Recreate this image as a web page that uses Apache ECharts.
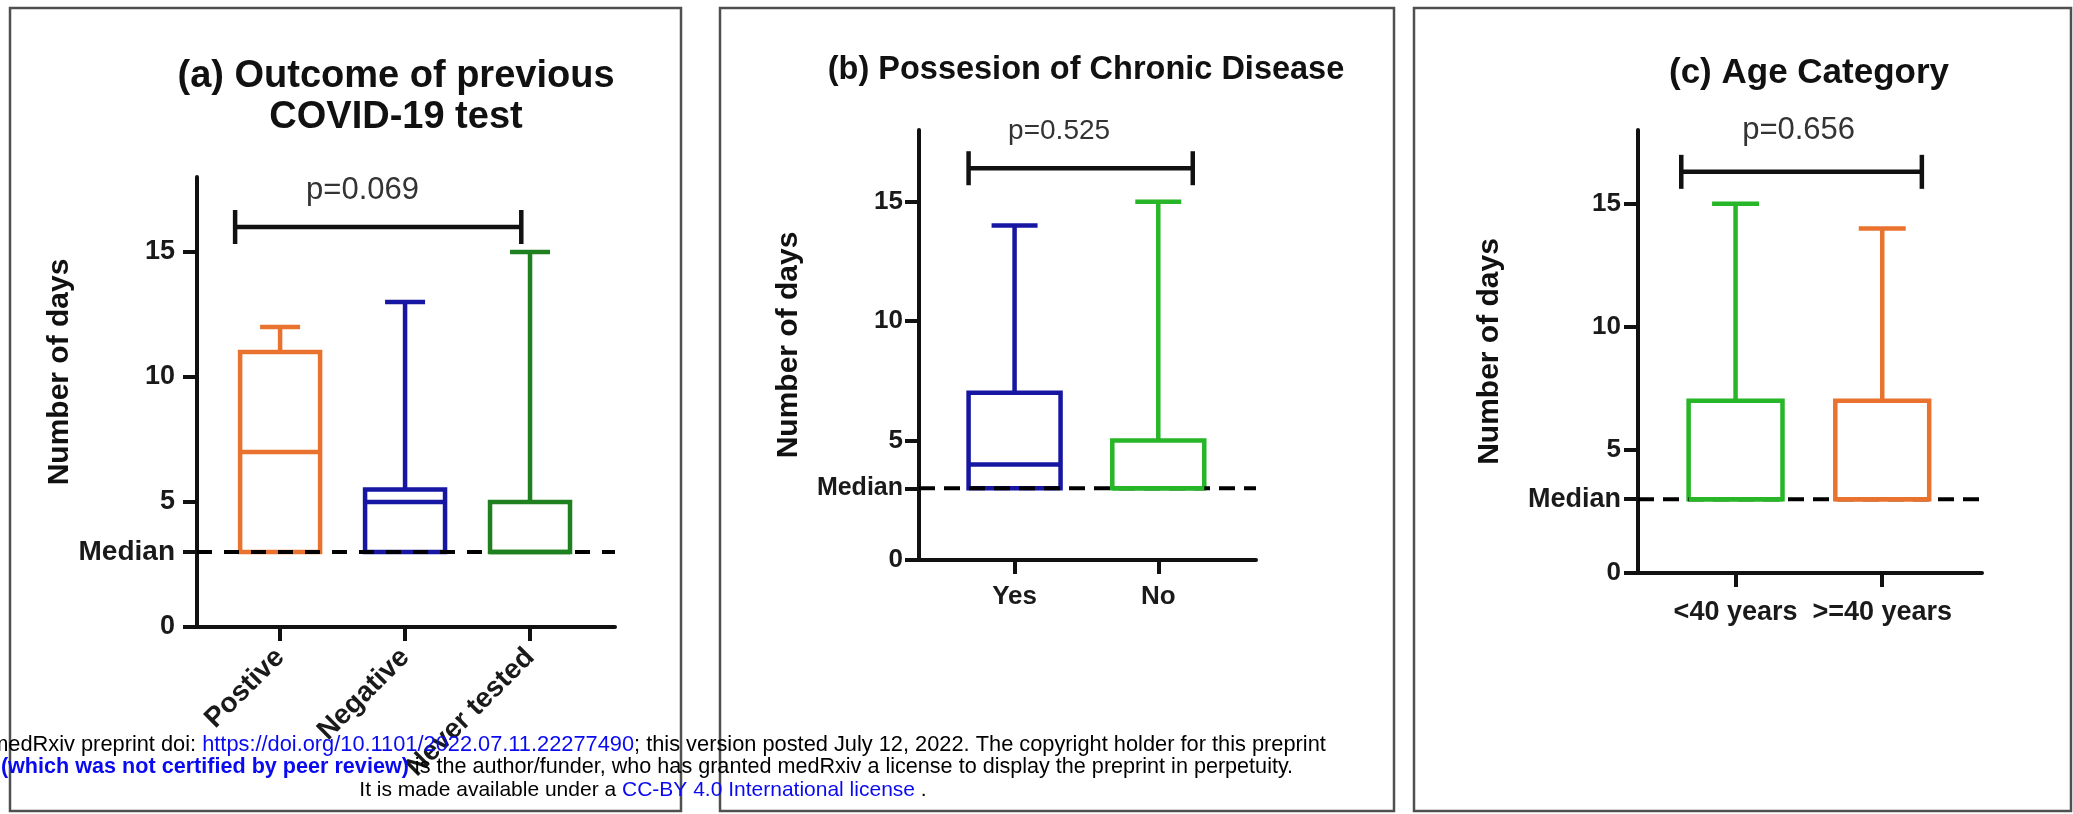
<!DOCTYPE html>
<html><head><meta charset="utf-8">
<script src="https://cdn.jsdelivr.net/npm/echarts@6/dist/echarts.min.js"></script>
<style>html,body{margin:0;padding:0;background:#fff}#c{width:2073px;height:814px}</style>
</head><body><div id="c"></div>
<script>
// ---------- DATA ----------
// Panel (a) Outcome of previous COVID-19 test
const catsA = ['Postive', 'Negative', 'Never tested'];
const minA = [3, 3, 3];
const q1A = [3, 3, 3];
const medA = [7, 5, 3];
const q3A = [11, 5.5, 5];
const maxA = [12, 13, 15];
const bracketA = [-0.36, 1.93, 16];      // from, to, y
const pTextA = 'p=0.069';
const pPosA = [0.66, 17.45];             // x, y (data units)

// Panel (b) Possesion of Chronic Disease
const catsB = ['Yes', 'No'];
const minB = [3, 3];
const q1B = [3, 3];
const medB = [4, 3];
const q3B = [7, 5];
const maxB = [14, 15];
const bracketB = [-0.32, 1.24, 16.4];
const pTextB = 'p=0.525';
const pPosB = [0.31, 17.95];

// Panel (c) Age Category
const catsC = ['<40 years', '>=40 years'];
const minC = [3, 3];
const q1C = [3, 3];
const medC = [3, 3];
const q3C = [7, 7];
const maxC = [15, 14];
const bracketC = [-0.37, 1.27, 16.3];
const pTextC = 'p=0.656';
const pPosC = [0.43, 18.0];

const yTicks = [0, 5, 10, 15];
const medianRef = 3;
const yMax = 18;

// ---------- STYLE / LAYOUT ----------
const FONT = '"Liberation Sans", Arial, Helvetica, sans-serif';
const ORANGE = '#E8722E', BLUE = '#1616A2', DGREEN = '#1F801F', GREEN = '#27B627';
const BOX = 0.64, CAP = 0.32, XMIN = -0.665, XPAD = 0.68;

const panels = [
  { cats: catsA, min: minA, q1: q1A, med: medA, q3: q3A, max: maxA, bracket: bracketA, pText: pTextA, pPos: pPosA,
    colors: [ORANGE, BLUE, DGREEN], grid: { left: 197, top: 177, width: 418, height: 450 },
    rotate: 45, xMargin: 26, xSize: 28, ySize: 27, yMargin: 22, medSize: 28, pSize: 31,
    nameGap: 97, namePad: [0, 0, 0, 60], dash: [15, 12] },
  { cats: catsB, min: minB, q1: q1B, med: medB, q3: q3B, max: maxB, bracket: bracketB, pText: pTextB, pPos: pPosB,
    colors: [BLUE, GREEN], grid: { left: 919, top: 130, width: 337, height: 430 },
    rotate: 0, xMargin: 24, xSize: 26, ySize: 26, yMargin: 16, medSize: 25, pSize: 28,
    nameGap: 115, namePad: 0, dash: [16, 9] },
  { cats: catsC, min: minC, q1: q1C, med: medC, q3: q3C, max: maxC, bracket: bracketC, pText: pTextC, pPos: pPosC,
    colors: [GREEN, ORANGE], grid: { left: 1638, top: 130, width: 344, height: 443 },
    rotate: 0, xMargin: 26, xSize: 27, ySize: 26, yMargin: 17, medSize: 27, pSize: 31,
    nameGap: 133, namePad: 0, dash: [16, 9] }
];

const grids = [], xAxes = [], yAxes = [], series = [];
const axisCol = '#111';

panels.forEach((p, i) => {
  const n = p.cats.length;
  const idx = p.cats.map((_, k) => k);
  const xmax = n - 1 + XPAD;
  grids.push(Object.assign({ containLabel: false }, p.grid));
  xAxes.push({
    gridIndex: i, type: 'value', min: XMIN, max: xmax,
    axisLine: { show: true, onZero: false, lineStyle: { color: axisCol, width: 4 } },
    axisTick: { show: true, length: 14, customValues: idx, lineStyle: { color: axisCol, width: 4 } },
    axisLabel: { customValues: idx, formatter: v => p.cats[Math.round(v)], rotate: p.rotate, margin: p.xMargin,
      fontSize: p.xSize, fontWeight: 'bold', color: '#1a1a1a', fontFamily: FONT },
    splitLine: { show: false }
  });
  const yLabelVals = yTicks.concat([medianRef]).sort((a, b) => a - b);
  yAxes.push({
    gridIndex: i, type: 'value', min: 0, max: yMax,
    axisLine: { show: true, onZero: false, lineStyle: { color: axisCol, width: 4 } },
    axisTick: { show: true, length: 14, customValues: yLabelVals, lineStyle: { color: axisCol, width: 4 } },
    axisLabel: { customValues: yLabelVals, margin: p.yMargin,
      formatter: v => v === medianRef ? '{m|Median}' : String(v),
      rich: { m: { fontSize: p.medSize, fontWeight: 'bold', color: '#1a1a1a', fontFamily: FONT } },
      fontSize: p.ySize, fontWeight: 'bold', color: '#1a1a1a', fontFamily: FONT },
    splitLine: { show: false },
    name: 'Number of days', nameLocation: 'middle', nameGap: p.nameGap,
    nameTextStyle: { fontSize: 30, fontWeight: 'bold', color: '#111', fontFamily: FONT, padding: p.namePad }
  });

  const rows = idx.map(k => [k, p.min[k], p.q1[k], p.med[k], p.q3[k], p.max[k]]);

  // boxes + whiskers
  series.push({
    type: 'custom', xAxisIndex: i, yAxisIndex: i, z: 2, silent: true,
    data: rows, encode: { x: 0, y: [1, 2, 3, 4, 5] },
    renderItem: (params, api) => {
      const k = api.value(0);
      const col = p.colors[params.dataIndex];
      const lb = api.coord([k - BOX / 2, api.value(2)]);
      const rt = api.coord([k + BOX / 2, api.value(4)]);
      const wq3 = api.coord([k, api.value(4)]);
      const wmax = api.coord([k, api.value(5)]);
      const cl = api.coord([k - CAP / 2, api.value(5)]);
      const cr = api.coord([k + CAP / 2, api.value(5)]);
      const wq1 = api.coord([k, api.value(2)]);
      const wmin = api.coord([k, api.value(1)]);
      const st = { stroke: col, lineWidth: 4.5, fill: null };
      const ch = [
        { type: 'line', shape: { x1: wq3[0], y1: wq3[1], x2: wmax[0], y2: wmax[1] }, style: st },
        { type: 'line', shape: { x1: cl[0], y1: cl[1], x2: cr[0], y2: cr[1] }, style: st },
        { type: 'rect', shape: { x: lb[0], y: rt[1], width: rt[0] - lb[0], height: lb[1] - rt[1] },
          style: { stroke: col, lineWidth: 4.5, fill: 'none', lineJoin: 'miter' } }
      ];
      if (api.value(1) < api.value(2)) {
        const ll = api.coord([k - CAP / 2, api.value(1)]);
        const lr = api.coord([k + CAP / 2, api.value(1)]);
        ch.push({ type: 'line', shape: { x1: wq1[0], y1: wq1[1], x2: wmin[0], y2: wmin[1] }, style: st });
        ch.push({ type: 'line', shape: { x1: ll[0], y1: ll[1], x2: lr[0], y2: lr[1] }, style: st });
      }
      return { type: 'group', children: ch };
    }
  });

  // dashed overall-median reference line
  series.push({
    type: 'custom', xAxisIndex: i, yAxisIndex: i, z: 4, silent: true,
    data: [[XMIN, medianRef]], encode: { x: 0, y: 1 },
    renderItem: (params, api) => {
      const a = api.coord([XMIN, api.value(1)]);
      const b = api.coord([xmax, api.value(1)]);
      return { type: 'line', shape: { x1: a[0], y1: a[1], x2: b[0], y2: b[1] },
        style: { stroke: '#000', lineWidth: 4, lineDash: p.dash } };
    }
  });

  // group medians
  series.push({
    type: 'custom', xAxisIndex: i, yAxisIndex: i, z: 6, silent: true,
    data: rows, encode: { x: 0, y: 3 },
    renderItem: (params, api) => {
      const k = api.value(0);
      const a = api.coord([k - BOX / 2, api.value(3)]);
      const b = api.coord([k + BOX / 2, api.value(3)]);
      return { type: 'line', shape: { x1: a[0], y1: a[1], x2: b[0], y2: b[1] },
        style: { stroke: p.colors[params.dataIndex], lineWidth: 4.5 } };
    }
  });

  // significance bracket with p-value
  series.push({
    type: 'custom', xAxisIndex: i, yAxisIndex: i, z: 6, silent: true,
    data: [[p.bracket[0], p.bracket[1], p.bracket[2], p.pPos[0], p.pPos[1]]],
    encode: { x: [0, 1, 3], y: [2, 4] },
    renderItem: (params, api) => {
      const L = api.coord([api.value(0), api.value(2)]);
      const R = api.coord([api.value(1), api.value(2)]);
      const T = api.coord([api.value(3), api.value(4)]);
      const st = { stroke: '#111', lineWidth: 4.5 };
      return { type: 'group', children: [
        { type: 'line', shape: { x1: L[0], y1: L[1], x2: R[0], y2: R[1] }, style: st },
        { type: 'line', shape: { x1: L[0], y1: L[1] - 17, x2: L[0], y2: L[1] + 17 }, style: st },
        { type: 'line', shape: { x1: R[0], y1: R[1] - 17, x2: R[0], y2: R[1] + 17 }, style: st },
        { type: 'text', x: T[0], y: T[1], style: { text: p.pText, fill: '#333', fontSize: p.pSize,
          fontFamily: FONT, align: 'center', verticalAlign: 'middle', textAlign: 'center', textVerticalAlign: 'middle' } }
      ] };
    }
  });
});

function txt(x, y, text, size, extra) {
  return Object.assign({ type: 'text', x: x, y: y, z: 20, silent: true,
    style: Object.assign({ text: text, fill: '#111', fontSize: size, fontWeight: 'bold', fontFamily: FONT,
      align: 'center', verticalAlign: 'middle', textAlign: 'center', textVerticalAlign: 'middle' }, extra || {}) });
}

function footRich(sz) {
  return {
    k: { fill: '#000', fontSize: sz, fontFamily: FONT },
    b: { fill: '#0A0AF0', fontSize: sz, fontFamily: FONT },
    bb: { fill: '#0A0AF0', fontSize: sz, fontWeight: 'bold', fontFamily: FONT }
  };
}
function foot(x, y, sz, text) {
  return { type: 'text', x: x, y: y, z: 100, silent: true, style: { rich: footRich(sz), align: 'center', verticalAlign: 'middle',
    textAlign: 'center', textVerticalAlign: 'middle', text: text } };
}

const graphics = [
  { type: 'rect', z: 0, silent: true, shape: { x: 10, y: 8, width: 671, height: 803 }, style: { fill: 'none', stroke: '#505050', lineWidth: 2.5 } },
  { type: 'rect', z: 0, silent: true, shape: { x: 720, y: 8, width: 674, height: 803 }, style: { fill: 'none', stroke: '#505050', lineWidth: 2.5 } },
  { type: 'rect', z: 0, silent: true, shape: { x: 1414, y: 8, width: 657, height: 803 }, style: { fill: 'none', stroke: '#505050', lineWidth: 2.5 } },
  txt(396, 97, '(a) Outcome of previous\nCOVID-19 test', 38, { lineHeight: 41 }),
  txt(1086, 70, '(b) Possesion of Chronic Disease', 32.5),
  txt(1809, 73, '(c) Age Category', 35),
  foot(658, 745, 21.8, '{k|medRxiv preprint doi: }{b|https://doi.org/10.1101/2022.07.11.22277490}{k|; this version posted July 12, 2022. The copyright holder for this preprint}'),
  foot(647, 767, 21.6, '{bb|(which was not certified by peer review)}{k| is the author/funder, who has granted medRxiv a license to display the preprint in perpetuity.}'),
  foot(643, 790, 21, '{k|It is made available under a }{b|CC-BY 4.0 International license}{k| .}')
];

const chart = echarts.init(document.getElementById('c'), null, { renderer: 'canvas', width: 2073, height: 814 });
chart.setOption({
  backgroundColor: '#ffffff',
  animation: false,
  textStyle: { fontFamily: FONT },
  grid: grids, xAxis: xAxes, yAxis: yAxes, series: series,
  graphic: { elements: graphics }
});
</script></body></html>
